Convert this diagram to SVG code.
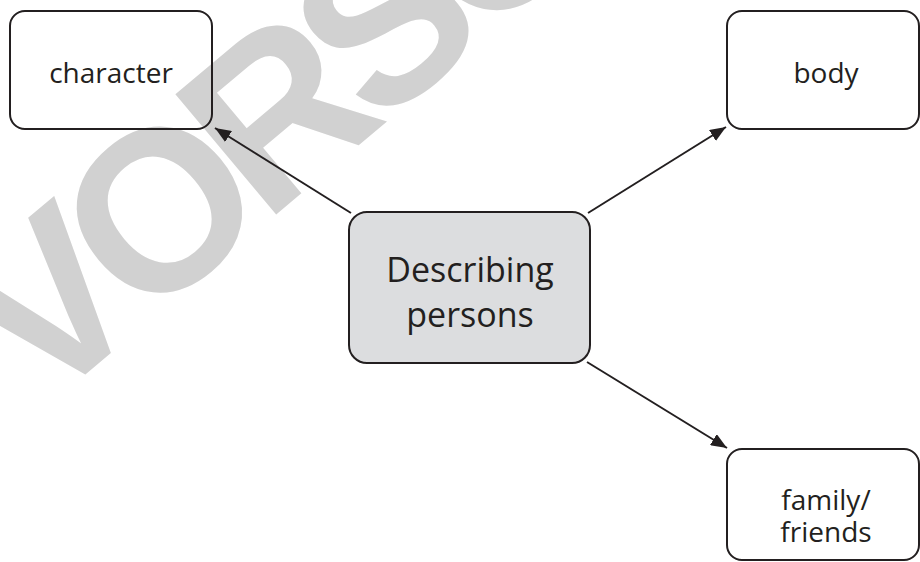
<svg xmlns="http://www.w3.org/2000/svg" width="920" height="562" viewBox="0 0 920 562">
<defs>
<style>
.wm{font-family:"Liberation Sans",Arial,sans-serif;font-weight:bold;font-size:228px;letter-spacing:-18px;fill:#d1d1d1}
.box{fill:none;stroke:#231f20;stroke-width:2}
.main{fill:#dcdddf;stroke:#231f20;stroke-width:2}
.lbl{font-family:"Open Sans","Noto Sans",sans-serif;font-size:28px;fill:#231f20;text-anchor:middle}
.big{font-family:"Open Sans","Noto Sans",sans-serif;font-size:34px;fill:#231f20;text-anchor:middle}
.conn{stroke:#231f20;stroke-width:2;fill:none}
</style>
<marker id="ah" markerUnits="userSpaceOnUse" markerWidth="17" markerHeight="13" refX="16" refY="6.5" orient="auto">
<path d="M0,0 L16,6.5 L0,13 z" fill="#231f20"/>
</marker>
</defs>
<rect width="920" height="562" fill="#ffffff"/>
<text class="wm" transform="translate(98,364) rotate(-40)" x="-76" y="0">VORSCHAU</text>
<g id="connectors">
<line class="conn" x1="351" y1="213" x2="215" y2="128" marker-end="url(#ah)"/>
<line class="conn" x1="588" y1="213" x2="726" y2="127" marker-end="url(#ah)"/>
<line class="conn" x1="587" y1="362" x2="727" y2="448" marker-end="url(#ah)"/>
</g>
<g id="center">
<rect class="main" x="349" y="212" width="241" height="151" rx="18"/>
<text class="big" x="470" y="282">Describing</text>
<text class="big" x="470" y="327">persons</text>
</g>
<g id="character">
<rect class="box" x="10" y="11" width="202" height="118" rx="15"/>
<text class="lbl" x="111" y="83">character</text>
</g>
<g id="body">
<rect class="box" x="727" y="11" width="192" height="118" rx="15"/>
<text class="lbl" x="826" y="83">body</text>
</g>
<g id="family">
<rect class="box" x="727" y="449" width="192" height="111" rx="15"/>
<text class="lbl" x="826" y="510">family/</text>
<text class="lbl" x="826" y="542">friends</text>
</g>
</svg>
